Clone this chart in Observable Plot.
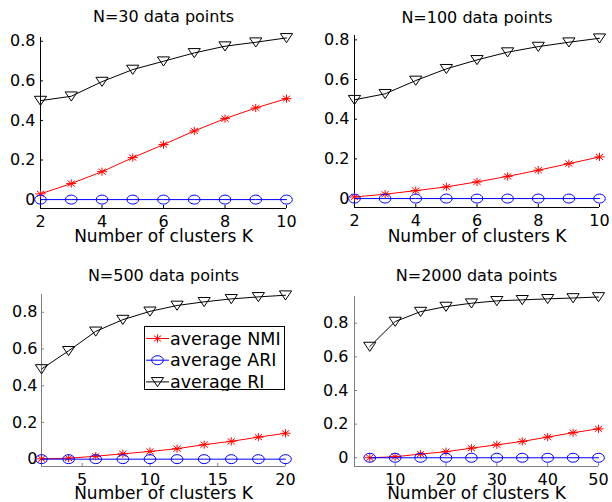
<!DOCTYPE html>
<html><head><meta charset="utf-8">
<script src="https://cdn.jsdelivr.net/npm/d3@7"></script>
<script src="https://cdn.jsdelivr.net/npm/@observablehq/plot@0.6"></script>
<style>
body{margin:0;background:#fff;}
#chart{position:relative;width:612px;height:502px;overflow:hidden;font-family:"DejaVu Sans",sans-serif;background:#fff;}
#chart > svg{position:absolute;}
</style></head><body><div id="chart"></div>
<script>
// ---- data ----
const k30 = [2,3,4,5,6,7,8,9,10];
const nmi30 = [0.029,0.081,0.141,0.212,0.278,0.347,0.409,0.463,0.510];
const ari30 = [0,0,0,0,0,0,0,0,0];
const ri30 = [0.500,0.522,0.596,0.657,0.699,0.741,0.775,0.795,0.817];

const k100 = [2,3,4,5,6,7,8,9,10];
const nmi100 = [0.008,0.022,0.040,0.059,0.084,0.112,0.143,0.176,0.210];
const ari100 = [0,0,0,0,0,0,0,0,0];
const ri100 = [0.498,0.528,0.595,0.654,0.699,0.738,0.766,0.788,0.808];

const k500 = [2,4,6,8,10,12,14,16,18,20];
const nmi500 = [0.002,0.005,0.016,0.029,0.042,0.057,0.079,0.097,0.120,0.141];
const ari500 = [0,0,0,0,0,0,0,0,0,0];
const ri500 = [0.491,0.590,0.696,0.760,0.805,0.837,0.857,0.873,0.884,0.893];

const k2000 = [5,10,15,20,25,30,35,40,45,50];
const nmi2000 = [0.000,0.006,0.022,0.036,0.057,0.077,0.097,0.123,0.149,0.172];
const ari2000 = [0,0,0,0,0,0,0,0,0,0];
const ri2000 = [0.661,0.810,0.869,0.899,0.919,0.933,0.939,0.945,0.950,0.956];

const titles = ["N=30 data points","N=100 data points","N=500 data points","N=2000 data points"];
const xLabel = "Number of clusters K";
const seriesLabels = ["average NMI","average ARI","average RI"];
const xTicksSmall = [2,4,6,8,10];
const xTicks500 = [5,10,15,20];
const xTicks2000 = [10,20,30,40,50];
const yTicksAll = [0,0.2,0.4,0.6,0.8];

// ---- styles ----
const FONT = "DejaVu Sans";
const RED = "#ff0000", BLUE = "#0000ff", BLACK = "#000000";

// custom marker shapes (the reference is horizontally stretched)
const star = {draw(ctx, size){
  const r = Math.sqrt(size/Math.PI), rx = r*1.05, ry = r*0.85, d = 0.72;
  ctx.moveTo(-rx,0); ctx.lineTo(rx,0);
  ctx.moveTo(0,-ry); ctx.lineTo(0,ry);
  ctx.moveTo(-rx*d,-ry*d); ctx.lineTo(rx*d,ry*d);
  ctx.moveTo(-rx*d,ry*d); ctx.lineTo(rx*d,-ry*d);
}};
const ellipse = {draw(ctx, size){
  const r = Math.sqrt(size/Math.PI), rx = r*1.1, ry = r*0.85, k = 0.5523;
  ctx.moveTo(rx,0);
  ctx.bezierCurveTo(rx,ry*k,rx*k,ry,0,ry);
  ctx.bezierCurveTo(-rx*k,ry,-rx,ry*k,-rx,0);
  ctx.bezierCurveTo(-rx,-ry*k,-rx*k,-ry,0,-ry);
  ctx.bezierCurveTo(rx*k,-ry,rx,-ry*k,rx,0);
  ctx.closePath();
}};
const triDown = {draw(ctx, size){
  const r = Math.sqrt(size/Math.PI);
  ctx.moveTo(-1.15*r,-0.82*r); ctx.lineTo(1.15*r,-0.82*r); ctx.lineTo(0,0.9*r); ctx.closePath();
}};

const fmtY = d => d === 0 ? "0" : d3.format(".1f")(d);

function panel(cfg){
  const rows = cfg.k.map((k,i)=>({k, nmi: cfg.nmi[i], ari: cfg.ari[i], ri: cfg.ri[i]}));
  const ac = cfg.axisColor;
  return Plot.plot({
    width: 306, height: 251,
    marginLeft: cfg.m[0], marginRight: cfg.m[1], marginTop: cfg.m[2], marginBottom: cfg.m[3],
    x: {domain: cfg.xDomain}, y: {domain: cfg.yDomain},
    style: {fontFamily: FONT, fontSize: "16px", color: "#000", background: "transparent", overflow: "visible"},
    marks: [
      Plot.ruleY([cfg.yDomain[0]], {stroke: ac}),
      Plot.ruleX([cfg.xDomain[0]], {stroke: ac}),
      Plot.axisX(cfg.xTicks, {tickSize: -3, tickFormat: () => "", stroke: ac, label: null}),
      Plot.axisY(yTicksAll, {tickSize: -3, tickFormat: () => "", stroke: ac, label: null}),
      Plot.axisX(cfg.xTicks, {tickSize: 0, tickPadding: 7, label: null, fill: "#000"}),
      Plot.axisY(yTicksAll, {tickSize: 0, tickPadding: cfg.yPad, tickFormat: fmtY, label: null, fill: "#000"}),
      Plot.line(rows, {x: "k", y: "nmi", stroke: RED, strokeWidth: 1}),
      Plot.dot(rows, {x: "k", y: "nmi", symbol: star, r: 4.8, stroke: RED, fill: "none", strokeWidth: 1}),
      Plot.line(rows, {x: "k", y: "ari", stroke: BLUE, strokeWidth: 1}),
      Plot.dot(rows, {x: "k", y: "ari", symbol: ellipse, r: 5.3, stroke: BLUE, fill: "none", strokeWidth: 1}),
      Plot.line(rows, {x: "k", y: "ri", stroke: BLACK, strokeWidth: 1}),
      Plot.dot(rows, {x: "k", y: "ri", symbol: triDown, r: 5.3, stroke: BLACK, fill: "none", strokeWidth: 1}),
      Plot.text([cfg.title], {frameAnchor: "top", lineAnchor: "top", dy: cfg.titleDy, fontSize: 16}),
      Plot.text([xLabel], {frameAnchor: "bottom", lineAnchor: "top", dy: cfg.xlabDy, fontSize: 17})
    ]
  });
}

const chart = document.getElementById("chart");
const cfgs = [
  {title: titles[0], k: k30, nmi: nmi30, ari: ari30, ri: ri30, xDomain: [2,10], yDomain: [-0.045,0.819],
   xTicks: xTicksSmall, m: [40,20,37,43], axisColor: "#000", yPad: 5, titleDy: -26.4, xlabDy: 21.3, pos: [0,0]},
  {title: titles[1], k: k100, nmi: nmi100, ari: ari100, ri: ri100, xDomain: [2,10], yDomain: [-0.045,0.822],
   xTicks: xTicksSmall, m: [48,13,35,44], axisColor: "#000", yPad: 5, titleDy: -23.7, xlabDy: 22.6, pos: [306,0]},
  {title: titles[2], k: k500, nmi: nmi500, ari: ari500, ri: ri500, xDomain: [2,20], yDomain: [-0.04,0.897],
   xTicks: xTicks500, m: [41,21,43,36], axisColor: "#808080", yPad: 4, titleDy: -24.4, xlabDy: 20.8, pos: [0,251]},
  {title: titles[3], k: k2000, nmi: nmi2000, ari: ari2000, ri: ri2000, xDomain: [2,50], yDomain: [-0.052,0.959],
   xTicks: xTicks2000, m: [48,14,45,36], axisColor: "#808080", yPad: 6, titleDy: -26.4, xlabDy: 20.8, pos: [306,251]}
];
for (const c of cfgs){
  const svg = panel(c);
  svg.style.left = c.pos[0] + "px";
  svg.style.top = c.pos[1] + "px";
  chart.appendChild(svg);
}

// ---- legend (inside N=500 panel) ----
const legendSyms = [
  {label: seriesLabels[0], color: RED, sym: star, r: 4.8},
  {label: seriesLabels[1], color: BLUE, sym: ellipse, r: 5.3},
  {label: seriesLabels[2], color: BLACK, sym: triDown, r: 5.3}
];
const lg = d3.create("svg").attr("width", 142).attr("height", 65)
  .style("left", "144px").style("top", "326px");
lg.append("rect").attr("x", 0.5).attr("y", 0.5).attr("width", 140).attr("height", 63)
  .attr("fill", "#fff").attr("stroke", "#000");
legendSyms.forEach((d,i)=>{
  const cy = 12.5 + i*21.7;
  const g = lg.append("g");
  g.append("line").attr("x1", 2).attr("x2", 25).attr("y1", cy).attr("y2", cy).attr("stroke", d.color);
  g.append("path").attr("transform", `translate(13.5,${cy})`)
    .attr("d", d3.symbol().type(d.sym).size(Math.PI*d.r*d.r)())
    .attr("fill", "none").attr("stroke", d.color);
  g.append("text").attr("x", 26).attr("y", cy + 6.2).attr("font-family", FONT).attr("font-size", 17.5)
    .attr("fill", "#000").text(d.label);
});
chart.appendChild(lg.node());
</script></body></html>
